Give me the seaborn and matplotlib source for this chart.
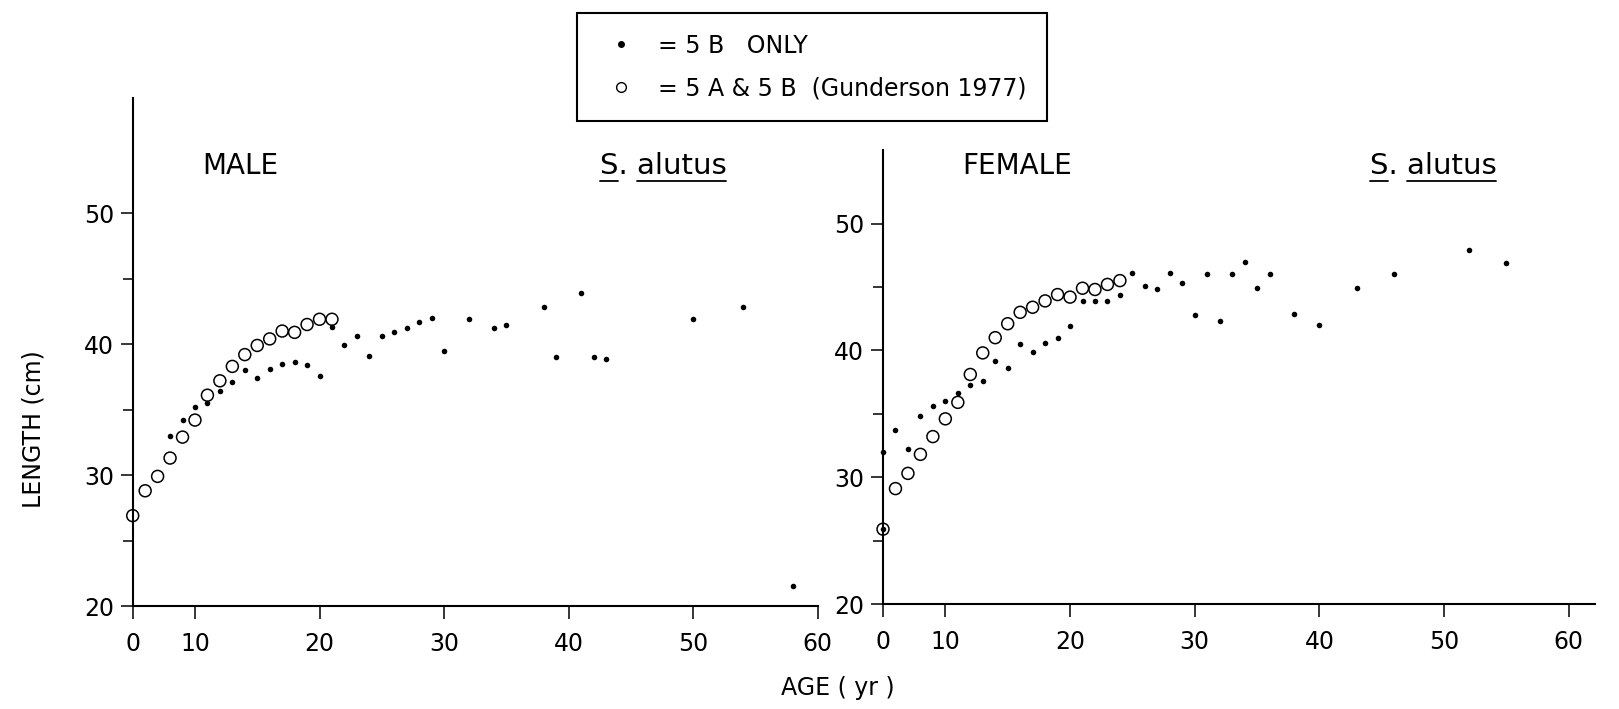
import matplotlib
matplotlib.use("Agg")
import matplotlib.pyplot as plt
import seaborn as sns
import pandas as pd
from matplotlib.lines import Line2D

# ---------------- data ----------------
male_open_age = [5, 6, 7, 8, 9, 10, 11, 12, 13, 14, 15, 16, 17, 18, 19, 20, 21]
male_open_len = [26.9, 28.8, 29.9, 31.3, 32.9, 34.2, 36.1, 37.2, 38.3, 39.2,
                 39.9, 40.4, 41.0, 40.9, 41.5, 41.9, 41.9]

male_dot_age = [8, 9, 10, 11, 12, 13, 14, 15, 16, 17, 18, 19, 20, 21, 22, 23,
                24, 25, 26, 27, 28, 29, 30, 32, 34, 35, 38, 39, 41, 42, 43,
                50, 54, 58]
male_dot_len = [33.0, 34.2, 35.2, 35.5, 36.4, 37.1, 38.0, 37.4, 38.1, 38.5,
                38.6, 38.4, 37.6, 41.3, 39.9, 40.6, 39.1, 40.6, 40.9, 41.2,
                41.7, 42.0, 39.5, 41.9, 41.2, 41.5, 42.8, 39.0, 43.9, 39.0,
                38.9, 41.9, 42.8, 21.5]

female_open_age = [5, 6, 7, 8, 9, 10, 11, 12, 13, 14, 15, 16, 17, 18, 19, 20,
                   21, 22, 23, 24]
female_open_len = [25.9, 29.1, 30.3, 31.8, 33.2, 34.6, 35.9, 38.1, 39.8, 41.0,
                   42.1, 43.0, 43.4, 43.9, 44.4, 44.2, 44.9, 44.8, 45.2, 45.5]

female_dot_age = [5, 5, 6, 7, 8, 9, 10, 11, 12, 13, 14, 15, 16, 17, 18, 19,
                  20, 21, 22, 23, 24, 25, 26, 27, 28, 29, 30, 31, 32, 33, 34,
                  35, 36, 38, 40, 43, 46, 52, 55]
female_dot_len = [25.9, 32.0, 33.7, 32.2, 34.8, 35.6, 36.0, 36.6, 37.3, 37.6,
                  39.2, 38.6, 40.5, 39.9, 40.6, 41.0, 41.9, 43.9, 43.9, 43.9,
                  44.4, 46.1, 45.1, 44.8, 46.1, 45.3, 42.8, 46.0, 42.3, 46.0,
                  47.0, 44.9, 46.0, 42.9, 42.0, 44.9, 46.0, 47.9, 46.9]

x_ticks = [5, 10, 20, 30, 40, 50, 60]
x_tick_labels = ["0", "10", "20", "30", "40", "50", "60"]
y_major = [20, 30, 40, 50]
y_minor = [25, 35, 45]

legend_labels = ["= 5 B   ONLY", "= 5 A & 5 B  (Gunderson 1977)"]

# ---------------- style ----------------
sns.set_style("ticks")
plt.rcParams['font.family'] = ['DejaVu Sans']
plt.rcParams['text.color'] = 'black'

W, H = 1619, 709
fig = plt.figure(figsize=(W / 100, H / 100), dpi=100)
fig.patch.set_facecolor('white')

axL = fig.add_axes([132.7 / W, (H - 606) / H, (817.7 - 132.7) / W, (606 - 98) / H])
axR = fig.add_axes([883 / W, (H - 604) / H, (1595 - 883) / W, (604 - 150) / H])


def draw(ax, oa, ol, da, dl, xlim, ylim):
    df_o = pd.DataFrame({"age": oa, "length": ol})
    df_d = pd.DataFrame({"age": da, "length": dl})
    sns.scatterplot(data=df_o, x="age", y="length", ax=ax, color="black",
                    s=74, marker="o", zorder=3, legend=False)
    c = ax.collections[-1]
    c.set_facecolor("none")
    c.set_edgecolor("black")
    c.set_linewidth(1.1)
    c.set_clip_on(False)
    sns.scatterplot(data=df_d, x="age", y="length", ax=ax, color="black",
                    s=16, marker="o", edgecolor="black", linewidth=0,
                    zorder=4, legend=False)
    ax.collections[-1].set_clip_on(False)

    ax.set_xlim(*xlim)
    ax.set_ylim(*ylim)
    sns.despine(ax=ax)
    for sp in ("left", "bottom"):
        ax.spines[sp].set_linewidth(1.5)
        ax.spines[sp].set_color("black")
    ax.set_facecolor("white")
    ax.set_xticks(x_ticks)
    ax.set_xticklabels(x_tick_labels)
    ax.set_yticks(y_major)
    ax.set_yticks(y_minor, minor=True)
    ax.tick_params(axis="y", which="major", length=8.5, width=1.1, pad=5,
                   labelsize=17, direction="out", colors="black")
    ax.tick_params(axis="y", which="minor", length=7, width=1.1,
                   direction="out", colors="black")
    ax.tick_params(axis="x", which="major", length=9.4, width=1.1, pad=9,
                   labelsize=17, direction="out", colors="black")
    ax.set_xlabel("")
    ax.set_ylabel("")
    ax.grid(False)


draw(axL, male_open_age, male_open_len, male_dot_age, male_dot_len,
     (5, 60), (20, 58.8))
draw(axR, female_open_age, female_open_len, female_dot_age, female_dot_len,
     (5, 62.1), (20, 55.8))

# axis titles
fig.text(33 / W, 1 - 429 / H, "LENGTH (cm)", rotation=90, ha="center",
         va="center", fontsize=17)
fig.text(838 / W, 1 - 688 / H, "AGE ( yr )", ha="center", va="center",
         fontsize=17)

# panel labels
yc = 1 - 166 / H
fig.text(240 / W, yc, "MALE", ha="center", va="center", fontsize=20)
fig.text(1017 / W, yc, "FEMALE", ha="center", va="center", fontsize=20)

fig.canvas.draw()
renderer = fig.canvas.get_renderer()


def text_width(s, fs):
    t = fig.text(0, 0, s, fontsize=fs)
    w = t.get_window_extent(renderer).width
    t.remove()
    return w


def species(xc, fs=21):
    t = fig.text(xc, yc, "S. alutus", ha="center", va="center", fontsize=fs)
    bb = t.get_window_extent(renderer)
    x0 = bb.x0
    w_s = text_width("S", fs)
    start_a = text_width("S. a", fs) - text_width("a", fs)
    uy = (bb.y0 - 1) / H
    fig.add_artist(Line2D([x0 / W, (x0 + w_s) / W], [uy, uy],
                          transform=fig.transFigure, color="black", lw=1.3))
    fig.add_artist(Line2D([(x0 + start_a) / W, bb.x1 / W], [uy, uy],
                          transform=fig.transFigure, color="black", lw=1.3))


species(663 / W)
species(1433 / W)

# legend box
handles = [
    Line2D([], [], marker="o", ls="", ms=4, mfc="black", mec="black"),
    Line2D([], [], marker="o", ls="", ms=7, mfc="none", mec="black", mew=1.0),
]
leg = fig.legend(handles, legend_labels, loc="center",
                 bbox_to_anchor=(812 / W, 1 - 67 / H), fontsize=17,
                 frameon=True, fancybox=False, borderpad=0.85,
                 labelspacing=0.8, handlelength=2.0, handletextpad=0.6,
                 borderaxespad=0)
leg.get_frame().set_edgecolor("black")
leg.get_frame().set_linewidth(1.5)
leg.get_frame().set_facecolor("white")
leg.get_frame().set_alpha(1)

fig.savefig("out.png", dpi=100, facecolor="white")
